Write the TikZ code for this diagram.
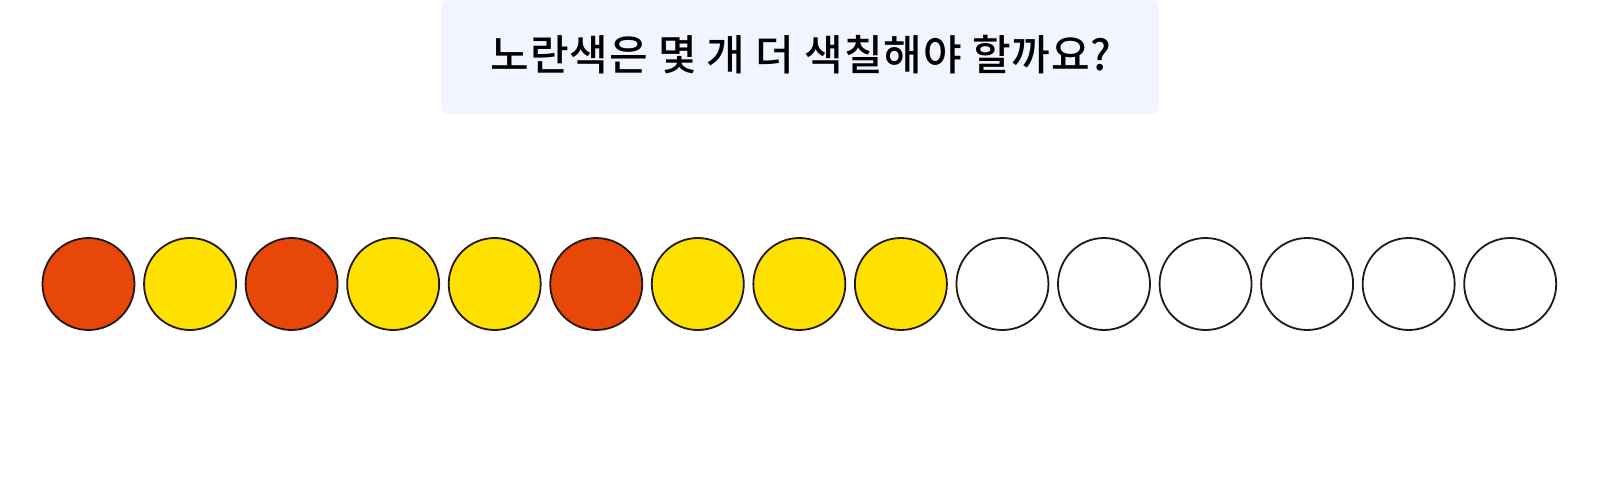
\documentclass[tikz,border=0pt]{standalone}
\usepackage{fontspec}
\newfontfamily\kr{Noto Sans CJK KR Medium}[LetterSpace=2]
\definecolor{boxbg}{HTML}{F2F5FF}
\definecolor{redf}{HTML}{E8470A}
\definecolor{yelf}{HTML}{FFE100}
\definecolor{edge}{HTML}{231815}
\begin{document}
\begin{tikzpicture}[x=1pt,y=-1pt,
  dot/.style={circle,draw=edge,line width=1.8pt,minimum size=92pt,inner sep=0pt},
  rdot/.style={dot,fill=redf},
  ydot/.style={dot,fill=yelf},
  wdot/.style={dot,fill=white}]
\useasboundingbox (0,0) rectangle (1600,490);
\node[fill=boxbg,rounded corners=8pt,minimum width=718pt,minimum height=114pt,inner sep=0pt] (box) at (800,57) {};
\node[font=\kr\fontsize{42}{50}\selectfont] (title) at (801,55) {노란색은 몇 개 더 색칠해야 할까요?};
\foreach \i/\s in {0/rdot,1/ydot,2/rdot,3/ydot,4/ydot,5/rdot,6/ydot,7/ydot,8/ydot,9/wdot,10/wdot,11/wdot,12/wdot,13/wdot,14/wdot}{
  \node[\s] (c\i) at ({88.5+101.55*\i},284) {};
}
\end{tikzpicture}
\end{document}
